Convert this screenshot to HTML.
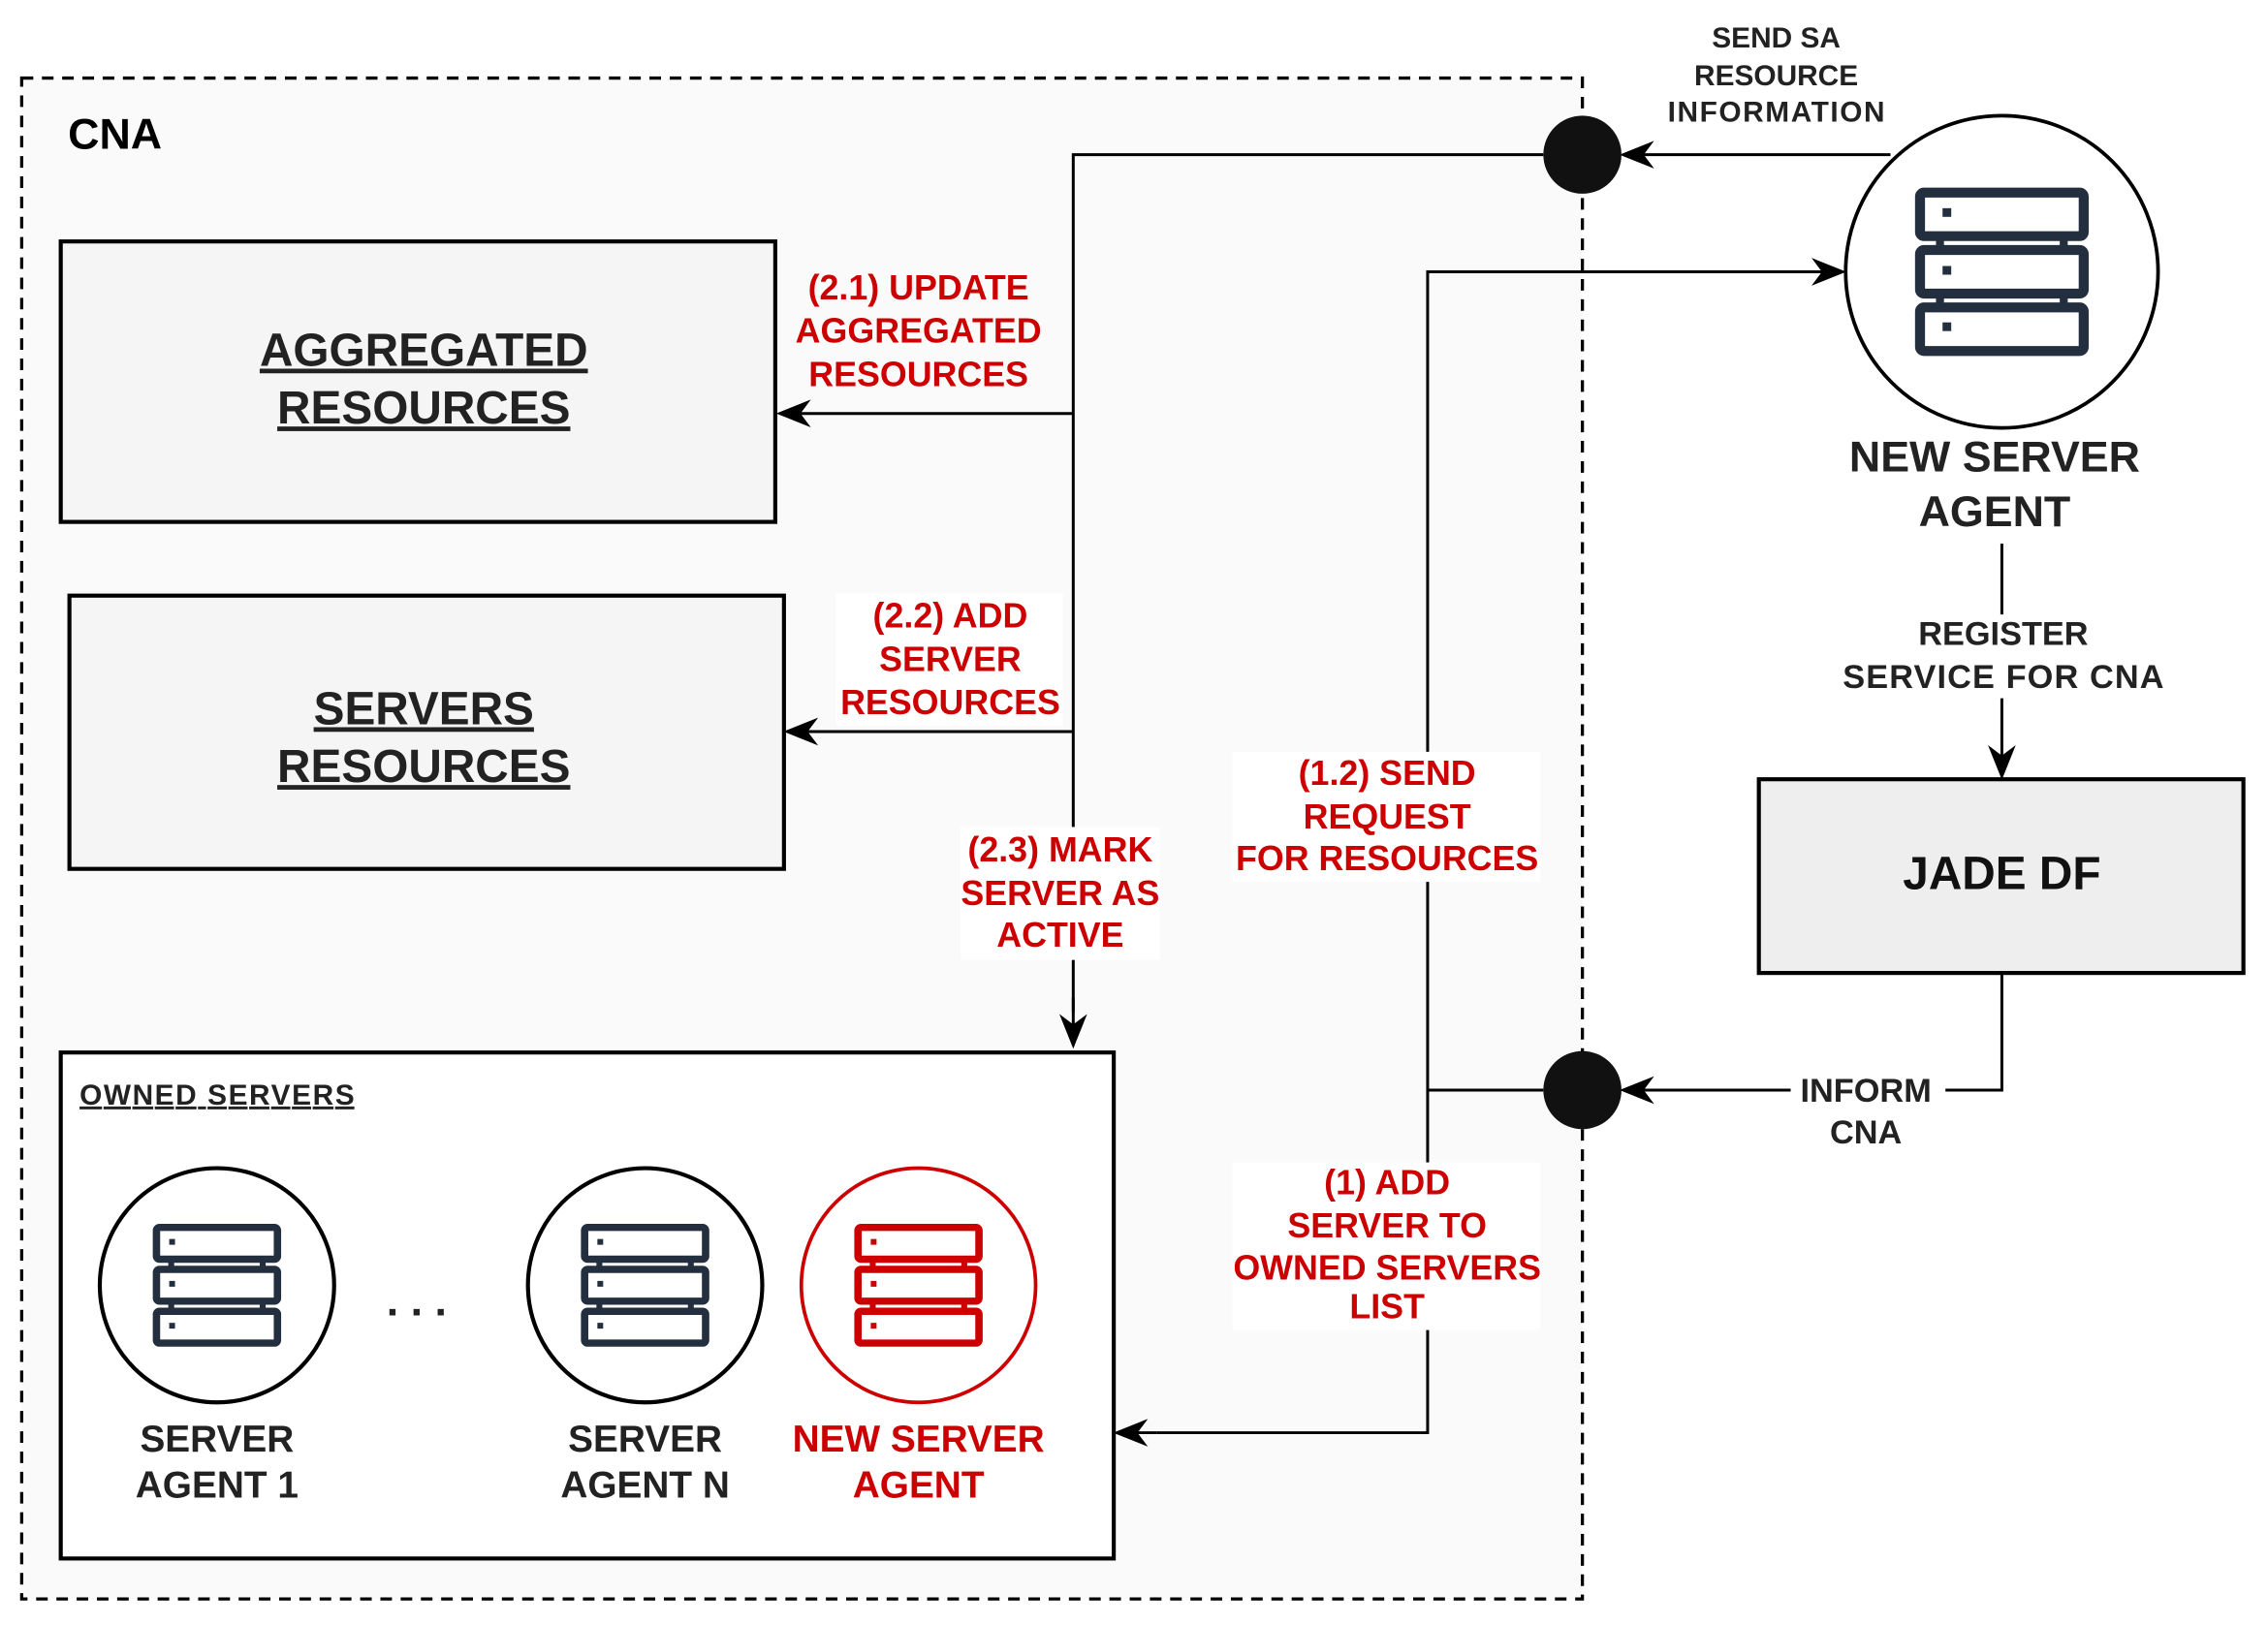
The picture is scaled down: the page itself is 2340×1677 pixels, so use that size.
<!DOCTYPE html>
<html><head><meta charset="utf-8"><style>html,body{margin:0;padding:0;background:#fff}svg{display:block}</style></head>
<body>
<svg width="2340" height="1677" viewBox="0 0 1568 1124" preserveAspectRatio="none" xmlns="http://www.w3.org/2000/svg" font-family="Liberation Sans, Arial, sans-serif" font-weight="bold">
<defs>
<marker id="ahb" viewBox="0 0 10 10" refX="9" refY="5" markerWidth="24" markerHeight="24" markerUnits="userSpaceOnUse" orient="auto"><path d="M0,1 L10,5 L0,9 L3,5 z" fill="#000"/></marker>
<g id="srv">
<rect x="-41" y="-40" width="82" height="22" rx="2" fill="none" stroke-width="5"/>
<rect x="-41" y="-11" width="82" height="22" rx="2" fill="none" stroke-width="5"/>
<rect x="-41" y="18" width="82" height="22" rx="2" fill="none" stroke-width="5"/>
<line x1="-31" y1="-18" x2="-31" y2="-11" stroke-width="4"/><line x1="31" y1="-18" x2="31" y2="-11" stroke-width="4"/>
<line x1="-31" y1="11" x2="-31" y2="18" stroke-width="4"/><line x1="31" y1="11" x2="31" y2="18" stroke-width="4"/>
</g>
</defs>
<rect width="1568" height="1124" fill="#fff"/>
<rect x="15" y="54" width="1079" height="1052" fill="#fafafa" stroke="#000" stroke-width="2.2" stroke-dasharray="8,6"/>
<text x="47" y="103" font-size="30">CNA</text>

<rect x="42" y="167" width="494" height="194" fill="#f5f5f5" stroke="#000" stroke-width="2.8"/>
<text x="293" y="253" font-size="32" text-anchor="middle" fill="#222" text-decoration="underline">AGGREGATED</text>
<text x="293" y="293" font-size="32" text-anchor="middle" fill="#222" text-decoration="underline">RESOURCES</text>
<rect x="48" y="412" width="494" height="189" fill="#f5f5f5" stroke="#000" stroke-width="2.8"/>
<text x="293" y="501" font-size="32" text-anchor="middle" fill="#222" text-decoration="underline">SERVERS</text>
<text x="293" y="541" font-size="32" text-anchor="middle" fill="#222" text-decoration="underline">RESOURCES</text>

<rect x="42" y="728" width="728" height="350" fill="#fff" stroke="#000" stroke-width="2.8"/>
<text x="55" y="764" font-size="20" fill="#222" text-decoration="underline" textLength="190">OWNED SERVERS</text>
<circle cx="150" cy="889" r="81" fill="#fff" stroke="#000" stroke-width="2.8"/>
<g transform="translate(150,889) scale(1.02,1)" stroke="#232f3e"><use href="#srv"/></g>
<rect x="117" y="857" width="4" height="4" fill="#232f3e"/><rect x="117" y="886" width="4" height="4" fill="#232f3e"/><rect x="117" y="915" width="4" height="4" fill="#232f3e"/>
<circle cx="446" cy="889" r="81" fill="#fff" stroke="#000" stroke-width="2.8"/>
<g transform="translate(446,889) scale(1.02,1)" stroke="#232f3e"><use href="#srv"/></g>
<rect x="413" y="857" width="4" height="4" fill="#232f3e"/><rect x="413" y="886" width="4" height="4" fill="#232f3e"/><rect x="413" y="915" width="4" height="4" fill="#232f3e"/>
<circle cx="635" cy="889" r="81" fill="#fff" stroke="#cc0000" stroke-width="2.5"/>
<g transform="translate(635,889) scale(1.02,1)" stroke="#cc0000"><use href="#srv"/></g>
<rect x="602" y="857" width="4" height="4" fill="#cc0000"/><rect x="602" y="886" width="4" height="4" fill="#cc0000"/><rect x="602" y="915" width="4" height="4" fill="#cc0000"/>
<text x="288" y="910" font-size="30" text-anchor="middle" fill="#222">. . .</text>
<g font-size="26" text-anchor="middle" fill="#222">
<text x="150" y="1004">SERVER</text><text x="150" y="1036">AGENT 1</text>
<text x="446" y="1004">SERVER</text><text x="446" y="1036">AGENT N</text>
<text x="635" y="1004" fill="#cc0000">NEW SERVER</text><text x="635" y="1036" fill="#cc0000">AGENT</text>
</g>

<circle cx="1384" cy="188" r="108" fill="#fff" stroke="#000" stroke-width="2.5"/>
<g transform="translate(1384,188) scale(1.38,1.37)" stroke="#232f3e"><use href="#srv"/></g>
<rect x="1343" y="144" width="6" height="6" fill="#232f3e"/><rect x="1343" y="184" width="6" height="6" fill="#232f3e"/><rect x="1343" y="223" width="6" height="6" fill="#232f3e"/>
<text x="1379" y="326" font-size="30" text-anchor="middle" fill="#222">NEW SERVER</text>
<text x="1379" y="364" font-size="30" text-anchor="middle" fill="#222">AGENT</text>

<line x1="1384" y1="376" x2="1384" y2="425" stroke="#000" stroke-width="2"/>
<text x="1385" y="446" font-size="23" text-anchor="middle" fill="#222">REGISTER</text>
<text x="1385" y="476" font-size="23" text-anchor="middle" fill="#222" textLength="222">SERVICE FOR CNA</text>
<line x1="1384" y1="483" x2="1384" y2="537" stroke="#000" stroke-width="2" marker-end="url(#ahb)"/>

<rect x="1216" y="539" width="335" height="134" fill="#eeeeee" stroke="#000" stroke-width="2.8"/>
<text x="1384" y="615" font-size="32" text-anchor="middle" fill="#111">JADE DF</text>

<polyline points="1384,673 1384,754 1345,754" fill="none" stroke="#000" stroke-width="2"/>
<text x="1290" y="762" font-size="23" text-anchor="middle" fill="#222">INFORM</text>
<text x="1290" y="791" font-size="23" text-anchor="middle" fill="#222">CNA</text>
<line x1="1238" y1="754" x2="1122" y2="754" stroke="#000" stroke-width="2" marker-end="url(#ahb)"/>
<circle cx="1094" cy="754" r="27" fill="#111"/>

<line x1="1307" y1="107" x2="1122" y2="107" stroke="#000" stroke-width="2" marker-end="url(#ahb)"/>
<circle cx="1094" cy="107" r="27" fill="#111"/>
<g font-size="20" text-anchor="middle" fill="#222">
<text x="1228" y="33">SEND SA</text><text x="1228" y="59">RESOURCE</text><text x="1228" y="84" textLength="150">INFORMATION</text>
</g>

<polyline points="1067,107 742,107 742,700" fill="none" stroke="#000" stroke-width="2"/>
<line x1="742" y1="286" x2="539" y2="286" stroke="#000" stroke-width="2" marker-end="url(#ahb)"/>
<line x1="742" y1="506" x2="544" y2="506" stroke="#000" stroke-width="2" marker-end="url(#ahb)"/>
<line x1="742" y1="690" x2="742" y2="723" stroke="#000" stroke-width="2" marker-end="url(#ahb)"/>

<polyline points="1067,754 987,754 987,188 1250,188" fill="none" stroke="#000" stroke-width="2"/>
<line x1="1240" y1="188" x2="1274" y2="188" stroke="#000" stroke-width="2" marker-end="url(#ahb)"/>
<polyline points="987,754 987,991 800,991" fill="none" stroke="#000" stroke-width="2"/>
<line x1="800" y1="991" x2="772" y2="991" stroke="#000" stroke-width="2" marker-end="url(#ahb)"/>

<g font-size="24" text-anchor="middle" fill="#cc0000">
<rect x="548" y="183" width="178" height="92" fill="#fafafa"/>
<text x="635" y="207">(2.1) UPDATE</text><text x="635" y="237">AGGREGATED</text><text x="635" y="267">RESOURCES</text>
<rect x="578" y="410" width="157" height="92" fill="#fff"/>
<text x="657" y="434">(2.2) ADD</text><text x="657" y="464">SERVER</text><text x="657" y="494">RESOURCES</text>
<rect x="664" y="572" width="138" height="92" fill="#fff"/>
<text x="733" y="596">(2.3) MARK</text><text x="733" y="626">SERVER AS</text><text x="733" y="655">ACTIVE</text>
<rect x="852" y="520" width="213" height="90" fill="#fff"/>
<text x="959" y="543">(1.2) SEND</text><text x="959" y="573">REQUEST</text><text x="959" y="602">FOR RESOURCES</text>
<rect x="852" y="804" width="213" height="116" fill="#fff"/>
<text x="959" y="826">(1) ADD</text><text x="959" y="856">SERVER TO</text><text x="959" y="885">OWNED SERVERS</text><text x="959" y="912">LIST</text>
</g>
</svg>
</body></html>
